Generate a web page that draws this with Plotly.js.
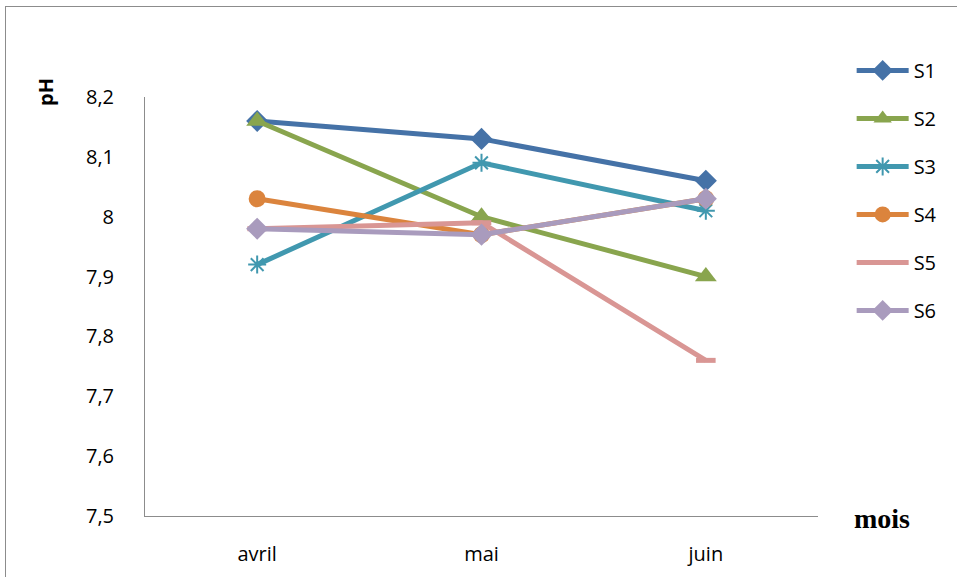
<!DOCTYPE html>
<html>
<head>
<meta charset="utf-8">
<script src="https://cdn.plot.ly/plotly-3.0.1.min.js"></script>
<style>
html,body{margin:0;padding:0;background:#fff;}
#frame{position:absolute;left:5px;top:6px;width:1000px;height:1000px;border:1px solid #8c8c8c;box-sizing:border-box;}
#chart{position:absolute;left:0;top:0;width:957px;height:577px;}
</style>
</head>
<body>
<div id="frame"></div>
<div id="chart"></div>
<script>
const months = ['avril', 'mai', 'juin'];
const seriesNames = ['S1', 'S2', 'S3', 'S4', 'S5', 'S6'];
const S1 = [8.16, 8.13, 8.06];
const S2 = [8.16, 8.00, 7.90];
const S3 = [7.92, 8.09, 8.01];
const S4 = [8.03, 7.97, 8.03];
const S5 = [7.98, 7.99, 7.76];
const S6 = [7.98, 7.97, 8.03];
const yTickVals = [7.5, 7.6, 7.7, 7.8, 7.9, 8.0, 8.1, 8.2];
const yTickText = ['7,5', '7,6', '7,7', '7,8', '7,9', '8', '8,1', '8,2'];

const values = [S1, S2, S3, S4, S5, S6];
const colors = ['#4572A7', '#89A54E', '#4198AF', '#DB843D', '#D99694', '#A99BBD'];
const markers = [
  {symbol: 'diamond', size: 17},
  {symbol: 'triangle-up', size: 19},
  {symbol: 'asterisk-open', size: 15},
  {symbol: 'circle', size: 17},
  {symbol: 'line-ew-open', size: 14},
  {symbol: 'diamond', size: 17}
];

const traces = values.map((v, i) => ({
  type: 'scatter',
  mode: 'lines+markers',
  name: seriesNames[i],
  legendgroup: 'g' + i,
  x: months,
  y: v,
  line: {color: colors[i], width: 5},
  marker: Object.assign({color: colors[i], line: {color: colors[i], width: (i === 2 ? 2 : (i === 4 ? 5 : 0))}}, markers[i]),
  cliponaxis: false
}));

const layout = {
  width: 957,
  height: 577,
  margin: {l: 145, r: 139, t: 97, b: 61},
  paper_bgcolor: 'rgba(0,0,0,0)',
  plot_bgcolor: 'rgba(0,0,0,0)',
  separators: ', ',
  font: {family: 'Open Sans, sans-serif', color: '#000', size: 20},
  showlegend: true,
  legend: {
    x: 1.05, y: 1.11, xanchor: 'left', yanchor: 'top',
    font: {size: 20, family: 'Open Sans, sans-serif', color: '#000'},
    traceorder: 'grouped',
    tracegroupgap: 19,
    itemwidth: 52,
    bgcolor: 'rgba(0,0,0,0)'
  },
  xaxis: {
    type: 'category',
    range: [-0.5, 2.5],
    showgrid: false,
    zeroline: false,
    showline: true,
    linecolor: '#8c8c8c',
    linewidth: 1,
    ticks: '',
    ticklabelstandoff: 20,
    tickfont: {size: 20}
  },
  yaxis: {
    range: [7.5, 8.2],
    tickvals: yTickVals,
    ticktext: yTickText,
    showgrid: false,
    zeroline: false,
    showline: true,
    linecolor: '#8c8c8c',
    linewidth: 1,
    ticks: '',
    ticklabelstandoff: 26,
    tickfont: {size: 20}
  },
  annotations: [
    {text: '<b>pH</b>', xref: 'paper', yref: 'paper', x: (45 - 145) / 673, y: (516 - 92) / 419,
     xanchor: 'center', yanchor: 'middle',
     textangle: -90, showarrow: false, font: {size: 20, family: 'Open Sans, sans-serif', color: '#000'}},
    {text: '<b>mois</b>', xref: 'paper', yref: 'paper', x: (882 - 145) / 673, y: (516 - 518) / 419,
     xanchor: 'center', yanchor: 'middle',
     showarrow: false, font: {size: 28, family: 'Liberation Serif, serif', color: '#000'}}
  ]
};

Plotly.newPlot('chart', traces, layout, {displayModeBar: false, staticPlot: true});
</script>
</body>
</html>
